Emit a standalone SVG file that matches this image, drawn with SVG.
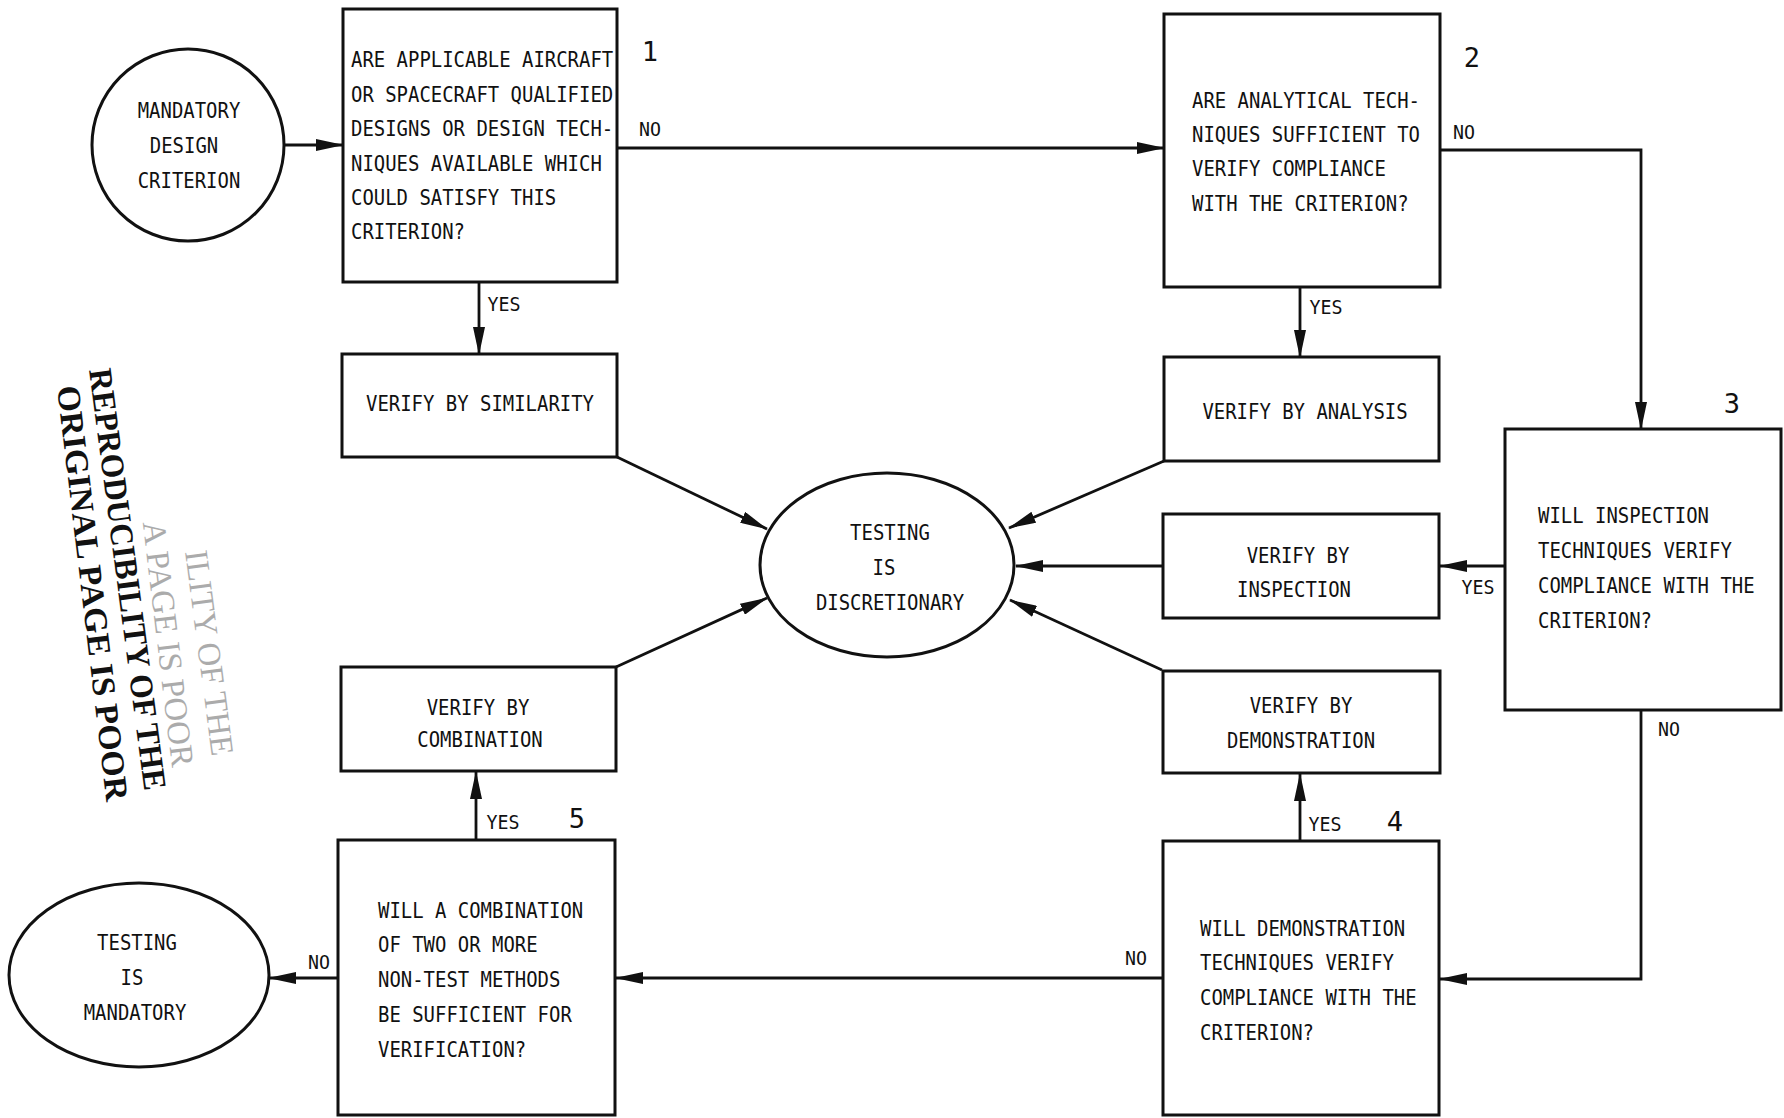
<svg xmlns="http://www.w3.org/2000/svg" width="1784" height="1118" viewBox="0 0 1784 1118">
<style>
.box{fill:#fff;stroke:#111;stroke-width:3}
.ell{fill:#fff;stroke:#111;stroke-width:3}
.t{font-family:"DejaVu Sans Mono","Liberation Mono",monospace;font-size:21px;fill:#111}
.c{text-anchor:middle}
.lab{font-family:"DejaVu Sans Mono","Liberation Mono",monospace;font-size:19px;fill:#111;text-anchor:middle}
.num{font-family:"DejaVu Sans Mono","Liberation Mono",monospace;font-size:27px;fill:#111;text-anchor:middle}
.con{fill:none;stroke:#111;stroke-width:2.8;marker-end:url(#ah)}
.stamp{font-family:"Liberation Serif","Times New Roman",serif;font-size:33px;font-weight:bold;fill:#111}
</style>
<defs>
<marker id="ah" markerUnits="userSpaceOnUse" markerWidth="28" markerHeight="12" refX="27" refY="6" orient="auto">
<path d="M0,0 L28,6 L0,12 z" fill="#111"/>
</marker>
</defs>
<rect width="1784" height="1118" fill="#fff"/>

<g id="connectors">
<line class="con" x1="284" y1="145" x2="343" y2="145"/>
<line class="con" x1="617" y1="148" x2="1164" y2="148"/>
<line class="con" x1="479" y1="282" x2="479" y2="354"/>
<line class="con" x1="1300" y1="287" x2="1300" y2="357"/>
<polyline class="con" points="1440,150 1641,150 1641,429"/>
<line class="con" x1="1505" y1="566" x2="1440" y2="566"/>
<polyline class="con" points="1641,710 1641,979 1440,979"/>
<line class="con" x1="1300" y1="841" x2="1300" y2="774"/>
<line class="con" x1="1163" y1="978" x2="616" y2="978"/>
<line class="con" x1="476" y1="840" x2="476" y2="772"/>
<line class="con" x1="338" y1="978" x2="269" y2="978"/>
<line class="con" x1="617" y1="457" x2="767" y2="529"/>
<line class="con" x1="1164" y1="461" x2="1009" y2="528"/>
<line class="con" x1="1163" y1="566" x2="1016" y2="566"/>
<line class="con" x1="1162" y1="670" x2="1010" y2="600"/>
<line class="con" x1="616" y1="667" x2="767" y2="598"/>
<text class="lab" x="650" y="136" textLength="22" lengthAdjust="spacingAndGlyphs">NO</text>
<text class="lab" x="1464" y="139" textLength="22" lengthAdjust="spacingAndGlyphs">NO</text>
<text class="lab" x="504" y="311" textLength="33" lengthAdjust="spacingAndGlyphs">YES</text>
<text class="lab" x="1326" y="314" textLength="33" lengthAdjust="spacingAndGlyphs">YES</text>
<text class="lab" x="1478" y="594" textLength="33" lengthAdjust="spacingAndGlyphs">YES</text>
<text class="lab" x="1669" y="736" textLength="22" lengthAdjust="spacingAndGlyphs">NO</text>
<text class="lab" x="1325" y="831" textLength="33" lengthAdjust="spacingAndGlyphs">YES</text>
<text class="lab" x="1136" y="965" textLength="22" lengthAdjust="spacingAndGlyphs">NO</text>
<text class="lab" x="503" y="829" textLength="33" lengthAdjust="spacingAndGlyphs">YES</text>
<text class="lab" x="319" y="969" textLength="22" lengthAdjust="spacingAndGlyphs">NO</text>
</g>

<g id="start">
<ellipse class="ell" cx="188" cy="145" rx="96" ry="96"/>
<text class="t c" x="189" y="118" textLength="102.6" lengthAdjust="spacingAndGlyphs">MANDATORY</text>
<text class="t c" x="184" y="153" textLength="68.4" lengthAdjust="spacingAndGlyphs">DESIGN</text>
<text class="t c" x="189" y="188" textLength="102.6" lengthAdjust="spacingAndGlyphs">CRITERION</text>
</g>

<g id="q1">
<rect class="box" x="343" y="9" width="274" height="273"/>
<text class="t" x="351" y="67" textLength="262.2" lengthAdjust="spacingAndGlyphs">ARE APPLICABLE AIRCRAFT</text>
<text class="t" x="351" y="102" textLength="262.2" lengthAdjust="spacingAndGlyphs">OR SPACECRAFT QUALIFIED</text>
<text class="t" x="351" y="136" textLength="262.2" lengthAdjust="spacingAndGlyphs">DESIGNS OR DESIGN TECH-</text>
<text class="t" x="351" y="171" textLength="250.8" lengthAdjust="spacingAndGlyphs">NIQUES AVAILABLE WHICH</text>
<text class="t" x="351" y="205" textLength="205.2" lengthAdjust="spacingAndGlyphs">COULD SATISFY THIS</text>
<text class="t" x="351" y="239" textLength="114" lengthAdjust="spacingAndGlyphs">CRITERION?</text>
<text class="num" x="650" y="61">1</text>
</g>

<g id="q2">
<rect class="box" x="1164" y="14" width="276" height="273"/>
<text class="t" x="1192" y="108" textLength="228" lengthAdjust="spacingAndGlyphs">ARE ANALYTICAL TECH-</text>
<text class="t" x="1192" y="142" textLength="228" lengthAdjust="spacingAndGlyphs">NIQUES SUFFICIENT TO</text>
<text class="t" x="1192" y="176" textLength="193.8" lengthAdjust="spacingAndGlyphs">VERIFY COMPLIANCE</text>
<text class="t" x="1192" y="211" textLength="216.6" lengthAdjust="spacingAndGlyphs">WITH THE CRITERION?</text>
<text class="num" x="1472" y="67">2</text>
</g>

<g id="q3">
<rect class="box" x="1505" y="429" width="276" height="281"/>
<text class="t" x="1538" y="523" textLength="171" lengthAdjust="spacingAndGlyphs">WILL INSPECTION</text>
<text class="t" x="1538" y="558" textLength="193.8" lengthAdjust="spacingAndGlyphs">TECHNIQUES VERIFY</text>
<text class="t" x="1538" y="593" textLength="216.6" lengthAdjust="spacingAndGlyphs">COMPLIANCE WITH THE</text>
<text class="t" x="1538" y="628" textLength="114" lengthAdjust="spacingAndGlyphs">CRITERION?</text>
<text class="num" x="1732" y="413">3</text>
</g>

<g id="q4">
<rect class="box" x="1163" y="841" width="276" height="274"/>
<text class="t" x="1200" y="936" textLength="205.2" lengthAdjust="spacingAndGlyphs">WILL DEMONSTRATION</text>
<text class="t" x="1200" y="970" textLength="193.8" lengthAdjust="spacingAndGlyphs">TECHNIQUES VERIFY</text>
<text class="t" x="1200" y="1005" textLength="216.6" lengthAdjust="spacingAndGlyphs">COMPLIANCE WITH THE</text>
<text class="t" x="1200" y="1040" textLength="114" lengthAdjust="spacingAndGlyphs">CRITERION?</text>
<text class="num" x="1395" y="831">4</text>
</g>

<g id="q5">
<rect class="box" x="338" y="840" width="277" height="275"/>
<text class="t" x="378" y="918" textLength="205.2" lengthAdjust="spacingAndGlyphs">WILL A COMBINATION</text>
<text class="t" x="378" y="952" textLength="159.6" lengthAdjust="spacingAndGlyphs">OF TWO OR MORE</text>
<text class="t" x="378" y="987" textLength="182.4" lengthAdjust="spacingAndGlyphs">NON-TEST METHODS</text>
<text class="t" x="378" y="1022" textLength="193.8" lengthAdjust="spacingAndGlyphs">BE SUFFICIENT FOR</text>
<text class="t" x="378" y="1057" textLength="148.2" lengthAdjust="spacingAndGlyphs">VERIFICATION?</text>
<text class="num" x="577" y="828">5</text>
</g>

<g id="similarity">
<rect class="box" x="342" y="354" width="275" height="103"/>
<text class="t c" x="480" y="411" textLength="228" lengthAdjust="spacingAndGlyphs">VERIFY BY SIMILARITY</text>
</g>

<g id="analysis">
<rect class="box" x="1164" y="357" width="275" height="104"/>
<text class="t c" x="1305" y="419" textLength="205.2" lengthAdjust="spacingAndGlyphs">VERIFY BY ANALYSIS</text>
</g>

<g id="inspection">
<rect class="box" x="1163" y="514" width="276" height="104"/>
<text class="t c" x="1298" y="563" textLength="102.6" lengthAdjust="spacingAndGlyphs">VERIFY BY</text>
<text class="t c" x="1294" y="597" textLength="114" lengthAdjust="spacingAndGlyphs">INSPECTION</text>
</g>

<g id="demonstration">
<rect class="box" x="1163" y="671" width="277" height="102"/>
<text class="t c" x="1301" y="713" textLength="102.6" lengthAdjust="spacingAndGlyphs">VERIFY BY</text>
<text class="t c" x="1301" y="748" textLength="148.2" lengthAdjust="spacingAndGlyphs">DEMONSTRATION</text>
</g>

<g id="combination">
<rect class="box" x="341" y="667" width="275" height="104"/>
<text class="t c" x="478" y="715" textLength="102.6" lengthAdjust="spacingAndGlyphs">VERIFY BY</text>
<text class="t c" x="480" y="747" textLength="125.4" lengthAdjust="spacingAndGlyphs">COMBINATION</text>
</g>

<g id="discretionary">
<ellipse class="ell" cx="887" cy="565" rx="127" ry="92"/>
<text class="t c" x="890" y="540" textLength="79.8" lengthAdjust="spacingAndGlyphs">TESTING</text>
<text class="t c" x="884" y="575" textLength="22.8" lengthAdjust="spacingAndGlyphs">IS</text>
<text class="t c" x="890" y="610" textLength="148.2" lengthAdjust="spacingAndGlyphs">DISCRETIONARY</text>
</g>

<g id="mandatory">
<ellipse class="ell" cx="139" cy="975" rx="130" ry="92"/>
<text class="t c" x="137" y="950" textLength="79.8" lengthAdjust="spacingAndGlyphs">TESTING</text>
<text class="t c" x="132" y="985" textLength="22.8" lengthAdjust="spacingAndGlyphs">IS</text>
<text class="t c" x="135" y="1020" textLength="102.6" lengthAdjust="spacingAndGlyphs">MANDATORY</text>
</g>

<g id="stamp">
<g opacity="0.35" font-weight="normal">
<text class="stamp" style="font-weight:normal;text-anchor:end" transform="translate(212,757) rotate(82.5)">ILITY OF THE</text>
<text class="stamp" style="font-weight:normal;text-anchor:end" transform="translate(172,768) rotate(83.2)">A  PAGE IS POOR</text>
</g>
<text class="stamp" transform="translate(89,370) rotate(82.5)" textLength="425" lengthAdjust="spacingAndGlyphs">REPRODUCIBILITY OF THE</text>
<text class="stamp" transform="translate(57,387) rotate(83.2)" textLength="418" lengthAdjust="spacingAndGlyphs">ORIGINAL PAGE IS POOR</text>
</g>
</svg>
